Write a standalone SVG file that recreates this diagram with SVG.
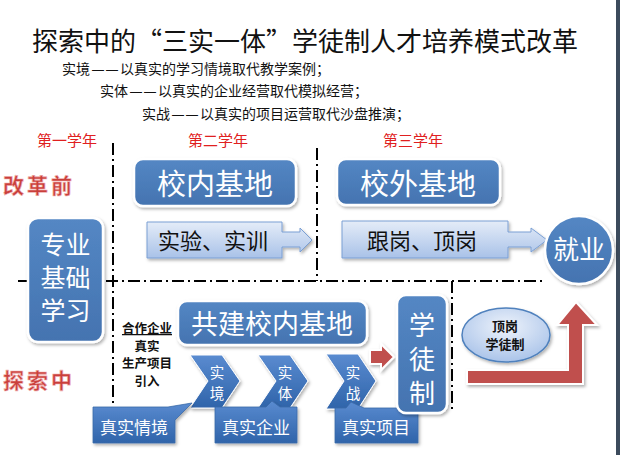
<svg xmlns="http://www.w3.org/2000/svg" width="620" height="455" viewBox="0 0 620 455">
<style>
.cjk{font-family:"Noto Sans CJK SC","Liberation Sans",sans-serif}
.title{font-size:26px;fill:#111}
.sub{font-size:14px;fill:#111}
.dash{font-family:"Liberation Sans",sans-serif;font-size:12px}
.year{font-size:15px;fill:#e02020}
.red{font-size:21px;font-weight:bold;fill:#c9403c;letter-spacing:3px;stroke:#f0b0b0;stroke-width:0.6px}
.wt{fill:#fff}
.bk{fill:#111}
.box{fill:url(#bg);stroke:#fff;stroke-width:2.5;filter:url(#sh)}
.lbox{fill:url(#lg);stroke:#7a9fd4;stroke-width:1;filter:url(#sh)}
.call{fill:url(#cg);stroke:#3a6aa8;stroke-width:0.8;filter:url(#sh)}
.chev{fill:url(#cg);stroke:#fff;stroke-width:1;filter:url(#sh)}
.dd{fill:none;stroke:#000;stroke-width:2;stroke-dasharray:12 4 2 4}
.rarr{fill:#c0504d;stroke:#fff;stroke-width:2;filter:url(#sh)}
</style>
<defs>
<linearGradient id="bg" x1="0" y1="0" x2="0" y2="1"><stop offset="0" stop-color="#5487c4"/><stop offset="1" stop-color="#4473b0"/></linearGradient>
<linearGradient id="lg" x1="0" y1="0" x2="0" y2="1"><stop offset="0" stop-color="#e4ecf8"/><stop offset="1" stop-color="#a9c2e8"/></linearGradient>
<linearGradient id="cg" x1="0" y1="0" x2="0" y2="1"><stop offset="0" stop-color="#5a8bd0"/><stop offset="1" stop-color="#2f64aa"/></linearGradient>
<radialGradient id="eg" cx="0.5" cy="0.35" r="0.7"><stop offset="0" stop-color="#eef3fb"/><stop offset="1" stop-color="#a5c0e8"/></radialGradient>
<filter id="sh" x="-20%" y="-20%" width="140%" height="140%"><feDropShadow dx="1.5" dy="2" stdDeviation="1.5" flood-color="#000" flood-opacity="0.3"/></filter>
</defs>
<rect x="0" y="0" width="620" height="455" fill="#fff"/>
<rect x="616" y="0" width="4" height="455" fill="#3c4b5c"/>

<g id="header" class="cjk">
<text class="title" x="32" y="51">探索中的“三实一体”学徒制人才培养模式改革</text>
<text class="sub" x="62" y="74">实境<tspan class="dash" x="92">—</tspan><tspan class="dash" x="106">—</tspan><tspan x="120">以真实的学习情境取代教学案例；</tspan></text>
<text class="sub" x="100" y="96">实体<tspan class="dash" x="130">—</tspan><tspan class="dash" x="144">—</tspan><tspan x="158">以真实的企业经营取代模拟经营；</tspan></text>
<text class="sub" x="142" y="119">实战<tspan class="dash" x="172">—</tspan><tspan class="dash" x="186">—</tspan><tspan x="200">以真实的项目运营取代沙盘推演；</tspan></text>
<text class="year" x="37" y="146">第一学年</text>
<text class="year" x="188" y="146">第二学年</text>
<text class="year" x="383" y="146">第三学年</text>
<text class="red" x="3" y="193">改革前</text>
<text class="red" x="3" y="388">探索中</text>
</g>

<g id="connectors">
<path class="dd" d="M113 143 V405"/>
<path class="dd" d="M317 148 V281"/>
<path class="dd" d="M18 281 H545"/>
<path class="dd" d="M452 281 V410"/>
<path id="arrow-small" class="rarr" d="M370 350 H381 V344 L394 357 L381 370 V364 H370 Z" stroke-width="1"/>
<path id="arrow-big" class="rarr" d="M467 370 H568 V325 H557 L576 302 L597 325 H583 V384 H467 Z"/>
</g>

<g id="node-xiaonei" class="cjk">
<rect class="box" x="134" y="159" width="162" height="47" rx="9"/>
<text class="wt" x="215" y="195" font-size="29" text-anchor="middle">校内基地</text>
</g>
<g id="node-xiaowai" class="cjk">
<rect class="box" x="337" y="159" width="163" height="46" rx="9"/>
<text class="wt" x="418" y="195" font-size="29" text-anchor="middle">校外基地</text>
</g>
<g id="node-shiyan" class="cjk">
<path class="lbox" d="M147 222 H282 V232 H300 V228 L312 240 L300 252 V247 H282 V258 H147 Z"/>
<text class="bk" x="213" y="249" font-size="22" text-anchor="middle">实验、实训</text>
</g>
<g id="node-gengang" class="cjk">
<path class="lbox" d="M342 221 H508 V232 H531 V228 L547 240 L531 252 V247 H508 V258 H342 Z"/>
<text class="bk" x="422" y="249" font-size="22" text-anchor="middle">跟岗、顶岗</text>
</g>
<g id="node-jiuye" class="cjk">
<circle cx="579" cy="250" r="34" fill="url(#bg)" stroke="#fff" stroke-width="2.5" filter="url(#sh)"/>
<text class="wt" x="579" y="259" font-size="26" text-anchor="middle">就业</text>
</g>
<g id="node-zhuanye" class="cjk">
<rect class="box" x="28" y="218" width="75" height="124" rx="10"/>
<text class="wt" font-size="25" text-anchor="middle"><tspan x="65.5" y="254">专业</tspan><tspan x="65.5" y="287">基础</tspan><tspan x="65.5" y="320">学习</tspan></text>
</g>
<g id="node-gongjian" class="cjk">
<rect class="box" x="178" y="301" width="189" height="44" rx="9"/>
<text class="wt" x="272" y="334" font-size="27" text-anchor="middle">共建校内基地</text>
</g>
<g id="node-hezuo" class="cjk">
<text class="bk" font-size="12.5" font-weight="bold" text-anchor="middle"><tspan x="147" y="333" text-decoration="underline">合作企业</tspan><tspan x="147" y="350.5">真实</tspan><tspan x="147" y="368">生产项目</tspan><tspan x="147" y="385.5">引入</tspan></text>
</g>
<g id="node-shijing" class="cjk">
<path class="chev" d="M190 355 H222 L240 381 L222 408 H190 L208 381 Z"/>
<text class="wt" font-size="14.5" text-anchor="middle"><tspan x="217" y="378">实</tspan><tspan x="217" y="399">境</tspan></text>
</g>
<g id="node-shiti" class="cjk">
<path class="chev" d="M258 355 H290 L308 381 L290 408 H258 L276 381 Z"/>
<text class="wt" font-size="14.5" text-anchor="middle"><tspan x="285" y="378">实</tspan><tspan x="285" y="399">体</tspan></text>
</g>
<g id="node-shizhan" class="cjk">
<path class="chev" d="M326 354 H358 L376 381 L358 409 H326 L344 381 Z"/>
<text class="wt" font-size="14.5" text-anchor="middle"><tspan x="353" y="378">实</tspan><tspan x="353" y="399">战</tspan></text>
</g>
<g id="node-zhenshiqingjing" class="cjk">
<path class="call" d="M93 407 H168 L192 403 L175 420 V443 H93 Z"/>
<text class="wt" x="134" y="434" font-size="17" text-anchor="middle">真实情境</text>
</g>
<g id="node-zhenshiqiye" class="cjk">
<path class="call" d="M215 407 H266 L272 401 L280 407 H297 V443 H215 Z"/>
<text class="wt" x="256" y="434" font-size="17" text-anchor="middle">真实企业</text>
</g>
<g id="node-zhenshixiangmu" class="cjk">
<path class="call" d="M335 408 H346 L351 402 L364 408 H418 V443 H335 Z"/>
<text class="wt" x="376" y="434" font-size="17" text-anchor="middle">真实项目</text>
</g>
<g id="node-xuetuzhi" class="cjk">
<rect class="box" x="397" y="295" width="50" height="118" rx="9"/>
<text class="wt" font-size="26" text-anchor="middle"><tspan x="422" y="335">学</tspan><tspan x="422" y="369">徒</tspan><tspan x="422" y="403">制</tspan></text>
</g>
<g id="node-dinggang" class="cjk">
<ellipse cx="506" cy="335" rx="44" ry="27" fill="url(#eg)" stroke="#4f81bd" stroke-width="1.5" filter="url(#sh)"/>
<text class="bk" font-size="13" font-weight="bold" text-anchor="middle"><tspan x="505" y="331">顶岗</tspan><tspan x="505" y="349">学徒制</tspan></text>
</g>
</svg>
